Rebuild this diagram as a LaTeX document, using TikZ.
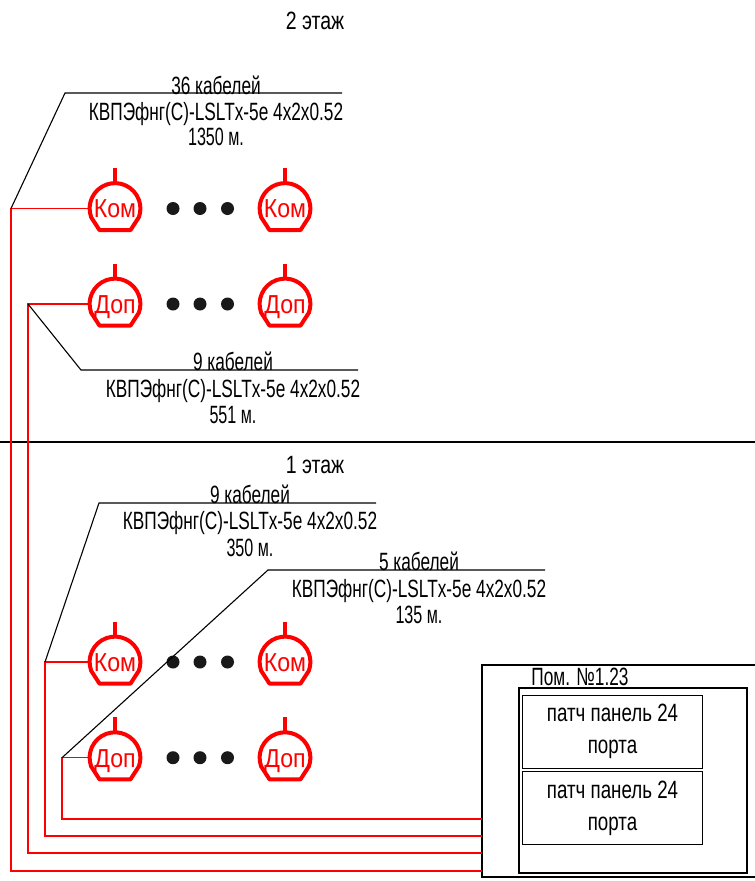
\documentclass[tikz,border=0pt]{standalone}
\usepackage{fontspec}
\setmainfont[FakeStretch=0.69]{Liberation Sans}
\newfontfamily\metrefont[FakeStretch=0.645]{Liberation Sans}
\newfontfamily\floorfont[FakeStretch=0.78]{Liberation Sans}
\newfontfamily\panelfont[FakeStretch=0.75]{Liberation Sans}
\newfontfamily\phonefont[FakeStretch=0.89]{Liberation Sans}
\definecolor{cabred}{RGB}{255,0,0}
\tikzset{
  x=1pt,y=-1pt,
  label text/.style={inner sep=0pt,font=\fontsize{25}{25}\selectfont,text=black,text height=18pt,text depth=0pt,anchor=center},
  metre text/.style={label text,font=\metrefont\fontsize{25}{25}\selectfont},
  floor text/.style={label text,font=\floorfont\fontsize{25}{25}\selectfont},
  phone text/.style={circle,inner sep=0pt,minimum size=52pt,text=cabred,font=\phonefont\fontsize{26}{26}\selectfont,text height=18.6pt,text depth=0pt},
  leader/.style={draw=black,line width=1.1pt,line join=miter},
  cable/.style={draw=cabred,line width=1.4pt},
  dotmark/.style={circle,fill=black!90,inner sep=0pt,minimum size=13pt},
  phone sym/.pic={
    \draw[cabred,line width=4pt,line join=round] (160:25.4) arc[start angle=160,end angle=380,radius=25.4] -- (15.5,21.6) -- (-15.5,21.6) -- cycle;
    \draw[cabred,line width=3.8pt] (0,-40.5) -- (0,-25);
  },
  panel/.style={draw=black,line width=.9pt,inner sep=0pt,minimum width=180pt,minimum height=73pt,align=center,font=\panelfont\fontsize{25}{32}\selectfont},
}
\newcommand{\phonemark}[4]{\pic at (#2,#3) {phone sym};\node[phone text] (#1) at (#2,#3) {#4};}
\begin{document}
\begin{tikzpicture}
\useasboundingbox (0,0) rectangle (755,881);
% floor divider
\coordinate (divL) at (0,442);
\coordinate (divR) at (755,442);
\draw[black,line width=1.7pt] (divL) -- (divR);
% floor titles
\node[floor text] (floor2) at (315,20) {2 этаж};
\node[floor text] (floor1) at (315,464) {1 этаж};
% phones
\phonemark{k1}{115}{208.5}{Ком}
\phonemark{k2}{285}{208.5}{Ком}
\phonemark{d1}{115}{304}{Доп}
\phonemark{d2}{285}{304}{Доп}
\phonemark{k3}{115}{662}{Ком}
\phonemark{k4}{285}{662}{Ком}
\phonemark{d3}{115}{757.7}{Доп}
\phonemark{d4}{285}{757.7}{Доп}
% ellipsis dots
\foreach \yy/\nn in {208.5/a,304/b,662/c,757.7/e}{
  \node[dotmark] (dot\nn1) at (173,\yy) {};
  \node[dotmark] (dot\nn2) at (200,\yy) {};
  \node[dotmark] (dot\nn3) at (227.5,\yy) {};
}
% room
\coordinate (rNW) at (482,665);
\coordinate (rSE) at (770,877);
\begin{scope}
\clip (0,0) rectangle (755,881);
\draw[black,line width=2.4pt] (rNW) rectangle (rSE);
\end{scope}
\node[inner sep=0pt,minimum width=228pt,minimum height=185pt,draw=black,line width=1.7pt] (rack) at (633,780.5) {};
\node[label text] (roomlabel) at (580,676) {Пом. №1.23};
\node[panel] (p1) at (612.5,731.5) {патч панель 24\\порта};
\node[panel] (p2) at (612.5,808) {патч панель 24\\порта};
% junctions
\coordinate (j1) at (11,208.5);
\coordinate (j2) at (28,304);
\coordinate (j3) at (45,662);
\coordinate (j4) at (62,757.7);
\coordinate (e1) at (482,871);
\coordinate (e2) at (482,853);
\coordinate (e3) at (482,836);
\coordinate (e4) at (482,819);
% cables
\draw[cable] (k1.west) -- (j1) |- (e1);
\draw[cable] (d1.west) -- (j2) |- (e2);
\draw[cable] (k3.west) -- (j3) |- (e3);
\draw[cable] (d3.west) -- (j4) |- (e4);
% leaders
\coordinate (l1a) at (65,93);  \coordinate (l1b) at (342,93);
\coordinate (l2a) at (81,370); \coordinate (l2b) at (358,370);
\coordinate (l3a) at (99,503); \coordinate (l3b) at (376,503);
\coordinate (l4a) at (268,570);\coordinate (l4b) at (545,570);
\draw[leader] (j1) -- (l1a) -- (l1b);
\draw[leader] (j2) -- (l2a) -- (l2b);
\draw[leader] (j3) -- (l3a) -- (l3b);
\draw[leader] (j4) -- (l4a) -- (l4b);
% labels
\node[label text] (t1a) at (216,85) {36 кабелей};
\node[label text] (t1b) at (216,111) {КВПЭфнг(С)-LSLTx-5е 4x2x0.52};
\node[metre text] (t1c) at (216,136) {1350 м.};
\node[label text] (t2a) at (233,361) {9 кабелей};
\node[label text] (t2b) at (233,388) {КВПЭфнг(С)-LSLTx-5е 4x2x0.52};
\node[metre text] (t2c) at (233,414) {551 м.};
\node[label text] (t3a) at (250,494) {9 кабелей};
\node[label text] (t3b) at (250,520) {КВПЭфнг(С)-LSLTx-5е 4x2x0.52};
\node[metre text] (t3c) at (250,547) {350 м.};
\node[label text] (t4a) at (419,561) {5 кабелей};
\node[label text] (t4b) at (419,588) {КВПЭфнг(С)-LSLTx-5е 4x2x0.52};
\node[metre text] (t4c) at (419,614) {135 м.};
\end{tikzpicture}
\end{document}
